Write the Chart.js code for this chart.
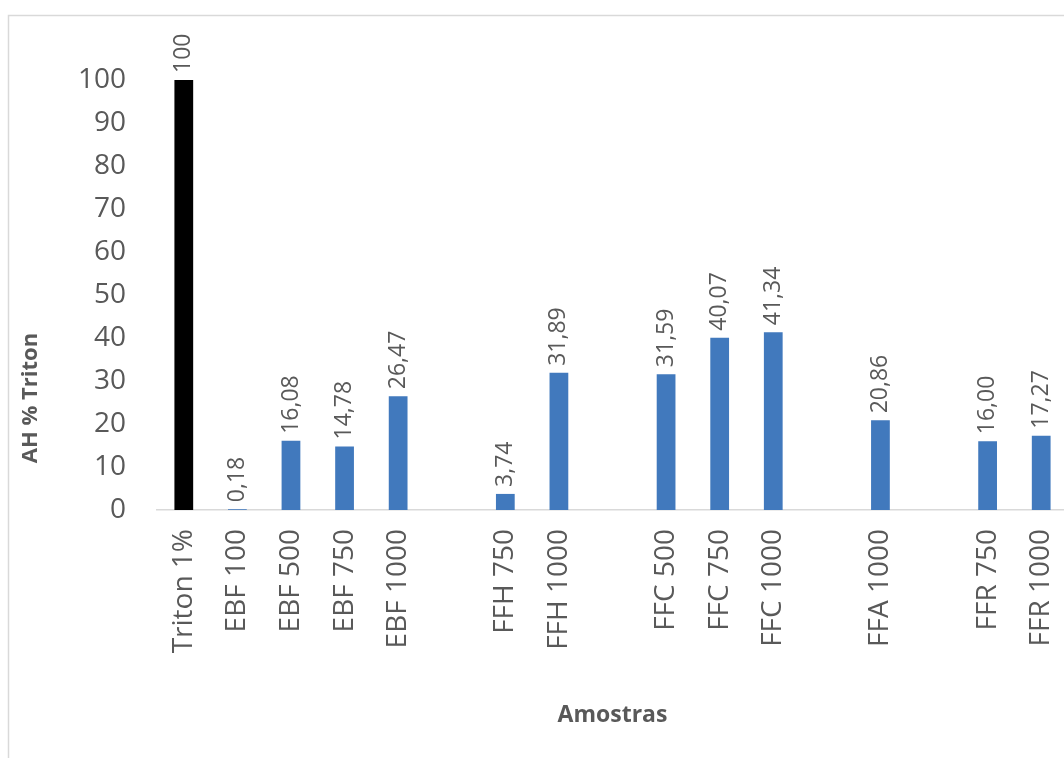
<!DOCTYPE html>
<html>
<head>
<meta charset="utf-8">
<script src="https://cdn.jsdelivr.net/npm/chart.js@4/dist/chart.umd.min.js"></script>
<style>
  html, body { margin: 0; padding: 0; overflow: hidden; background: #fff; }
  #wrap { position: absolute; left: 0; top: 0; width: 1068px; height: 758px; }
</style>
</head>
<body>
<div id="wrap"><canvas id="myChart"></canvas></div>
<script>
// amostras ('' = espaço entre grupos)
var amostras = ['Triton 1%', 'EBF 100', 'EBF 500', 'EBF 750', 'EBF 1000', '',
  'FFH 750', 'FFH 1000', '', 'FFC 500', 'FFC 750', 'FFC 1000', '',
  'FFA 1000', '', 'FFR 750', 'FFR 1000'];
var ahTriton = [100, 0.18, 16.08, 14.78, 26.47, null,
  3.74, 31.89, null, 31.59, 40.07, 41.34, null,
  20.86, null, 16.00, 17.27];
var yTicks = [0, 10, 20, 30, 40, 50, 60, 70, 80, 90, 100];

var textColor = '#595959';
var blue = '#4179bd';
var fontFamily = '"Open Sans", "DejaVu Sans", sans-serif';

function formatValue(v) {
  if (v === 100) return '100';
  return v.toFixed(2).replace('.', ',');
}

// moldura cinza + rótulos de valor + títulos dos eixos
var extras = {
  id: 'extras',
  beforeDraw: function (chart) {
    var ctx = chart.ctx;
    ctx.save();
    ctx.strokeStyle = '#d9d9d9';
    ctx.lineWidth = 1.5;
    ctx.beginPath();
    ctx.moveTo(8.5, chart.height);
    ctx.lineTo(8.5, 15.5);
    ctx.lineTo(chart.width, 15.5);
    ctx.stroke();
    ctx.restore();
  },
  afterDatasetsDraw: function (chart) {
    var ctx = chart.ctx;
    var meta = chart.getDatasetMeta(0);
    ctx.save();
    ctx.fillStyle = textColor;
    ctx.font = '23px ' + fontFamily;
    ctx.textAlign = 'left';
    ctx.textBaseline = 'middle';
    meta.data.forEach(function (bar, i) {
      var v = ahTriton[i];
      if (v === null) return;
      ctx.save();
      ctx.translate(bar.x, bar.y - 7);
      ctx.rotate(-Math.PI / 2);
      ctx.fillText(formatValue(v), 0, 0);
      ctx.restore();
    });

    var area = chart.chartArea;
    ctx.font = 'bold 23px ' + fontFamily;
    ctx.textAlign = 'center';
    ctx.fillText('Amostras', (area.left + area.right) / 2, 715);

    ctx.save();
    ctx.translate(31, 398);
    ctx.rotate(-Math.PI / 2);
    ctx.font = 'bold 22px ' + fontFamily;
    ctx.fillText('AH % Triton', 0, 0);
    ctx.restore();
    ctx.restore();
  }
};

var ctx = document.getElementById('myChart').getContext('2d');
var myChart = new Chart(ctx, {
  type: 'bar',
  data: {
    labels: amostras,
    datasets: [{
      label: 'AH % Triton',
      data: ahTriton,
      backgroundColor: amostras.map(function (a) { return a.indexOf('Triton') === 0 ? '#000000' : blue; }),
      categoryPercentage: 1,
      barPercentage: 0.35
    }]
  },
  options: {
    responsive: true,
    maintainAspectRatio: false,
    animation: false,
    devicePixelRatio: 1,
    layout: { padding: { top: 80, left: 0, right: 0, bottom: 0 } },
    plugins: {
      legend: { display: false },
      tooltip: { enabled: false }
    },
    scales: {
      x: {
        grid: { display: false, drawTicks: false },
        border: { display: true, color: '#d9d9d9', width: 1.5 },
        ticks: {
          autoSkip: false,
          maxRotation: 90,
          minRotation: 90,
          padding: 19,
          color: textColor,
          font: { family: fontFamily, size: 28 }
        },
        afterFit: function (s) {
          s.height = 248;
          s.paddingLeft = 0;
          s.paddingRight = 0;
        }
      },
      y: {
        min: 0,
        max: 100,
        grid: { display: false, drawTicks: false },
        border: { display: false },
        afterBuildTicks: function (s) { s.ticks = yTicks.map(function (v) { return { value: v }; }); },
        ticks: {
          padding: 31,
          color: textColor,
          font: { family: fontFamily, size: 28 }
        },
        afterFit: function (s) {
          s.width = 157;
          s.paddingTop = 0;
          s.paddingBottom = 0;
        }
      }
    }
  },
  plugins: [extras]
});
</script>
</body>
</html>
